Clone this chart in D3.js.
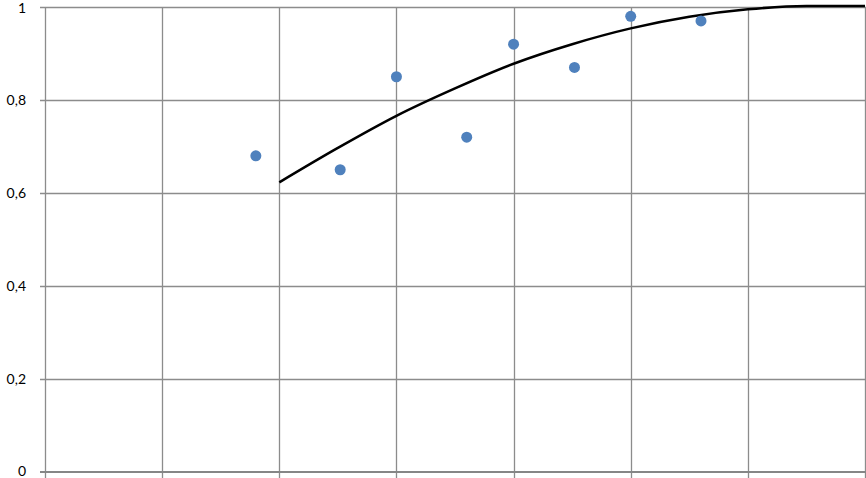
<!DOCTYPE html>
<meta charset="utf-8">
<head>
<script src="https://d3js.org/d3.v7.min.js"></script>
<style>
  body { margin: 0; background: #fff; }
  .tick-label { font: 14px Lato, "Open Sans", sans-serif; fill: #000; }
</style>
</head>
<body>
<div id="chart"></div>
<script>
// scatter points
var pointX = [1.8, 2.52, 3.0, 3.6, 4.0, 4.52, 5.0, 5.6];
var pointY = [0.68, 0.65, 0.85, 0.72, 0.92, 0.87, 0.98, 0.97];

// trend curve
var curveX = [2, 2.5, 3, 3.5, 4, 4.5, 5, 5.5, 6, 6.5, 7];
var curveY = [0.623, 0.697, 0.766, 0.825, 0.878, 0.920, 0.954, 0.979, 0.995, 1.002, 1.002];

var xTicks = [0, 1, 2, 3, 4, 5, 6, 7];
var yTicks = [0, 0.2, 0.4, 0.6, 0.8, 1];
var yLabels = ["0", "0,2", "0,4", "0,6", "0,8", "1"];

var W = 866, H = 478;
var margin = {top: 7, right: 1, bottom: 6, left: 45};

var svg = d3.select("#chart").append("svg")
    .attr("width", W)
    .attr("height", H);

var x = d3.scaleLinear().domain([0, 7]).range([margin.left, W - margin.right]);
var y = d3.scaleLinear().domain([0, 1]).range([H - margin.bottom, margin.top]);

// vertical gridlines (with small tick below the axis)
svg.append("g").selectAll("line")
  .data(xTicks)
  .enter().append("line")
    .attr("x1", function(d) { return Math.round(x(d)) + 0.5; })
    .attr("x2", function(d) { return Math.round(x(d)) + 0.5; })
    .attr("y1", y(1))
    .attr("y2", H)
    .attr("stroke", "#8c8c8c")
    .attr("stroke-width", 1.3);

// horizontal gridlines
svg.append("g").selectAll("line")
  .data(yTicks.slice(1))
  .enter().append("line")
    .attr("x1", x(0) - 5)
    .attr("x2", W)
    .attr("y1", function(d) { return Math.round(y(d)) + 0.5; })
    .attr("y2", function(d) { return Math.round(y(d)) + 0.5; })
    .attr("stroke", "#8c8c8c")
    .attr("stroke-width", 1.3);

// x axis line
svg.append("line")
  .attr("x1", x(0) - 5)
  .attr("x2", W)
  .attr("y1", y(0))
  .attr("y2", y(0))
  .attr("stroke", "#868686")
  .attr("stroke-width", 2);

// y labels
svg.append("g").selectAll("text")
  .data(yTicks)
  .enter().append("text")
    .attr("class", "tick-label")
    .attr("x", 26)
    .attr("y", function(d) { return d === 1 ? y(d) + 1.5 : (d === 0 ? y(d) - 1 : y(d) + 0.5); })
    .attr("dy", "0.35em")
    .attr("text-anchor", "end")
    .text(function(d, i) { return yLabels[i]; });

// trend curve
var line = d3.line()
  .x(function(d, i) { return x(curveX[i]); })
  .y(function(d) { return y(d); })
  .curve(d3.curveMonotoneX);

svg.append("path")
  .datum(curveY)
  .attr("d", line)
  .attr("fill", "none")
  .attr("stroke", "#000")
  .attr("stroke-width", 2.5);

// points
svg.append("g").selectAll("circle")
  .data(pointY)
  .enter().append("circle")
    .attr("cx", function(d, i) { return x(pointX[i]); })
    .attr("cy", function(d) { return y(d); })
    .attr("r", 5.5)
    .attr("fill", "#4f81bd");
</script>
</body>
